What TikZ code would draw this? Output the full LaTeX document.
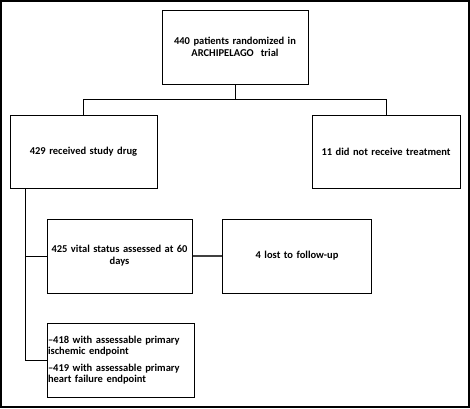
\documentclass[tikz,border=0pt]{standalone}
\usepackage{fontspec}
\setmainfont{Carlito}
\begin{document}
\begin{tikzpicture}[x=1pt,y=-1pt,
  fbox/.style={draw=black,line width=1pt,inner sep=2pt,font=\bfseries\fontsize{10.5}{12}\selectfont,align=center},
  link/.style={draw=black,line width=1pt}]
\useasboundingbox (0,0) rectangle (470,408);
\draw[line width=1.6pt] (1,1) rectangle (469,407);
\node[fbox,minimum width=146pt,minimum height=74pt,text width=140pt] (top) at (235,47) {440 patients randomized in\\ARCHIPELAGO\ \ trial};
\node[fbox,minimum width=147pt,minimum height=73pt,text width=140pt] (recv) at (83.5,151.5) {429 received study drug};
\node[fbox,minimum width=148pt,minimum height=73pt,text width=140pt] (norecv) at (386,151.5) {11 did not receive treatment};
\node[fbox,minimum width=145pt,minimum height=74pt,text width=140pt] (vital) at (119.5,256) {425 vital status assessed at 60\\days};
\node[fbox,minimum width=147pt,minimum height=74pt,text width=145pt] (lost) at (297,256) {4 lost to follow-up};
\node[fbox,minimum width=147pt,minimum height=74pt,text width=145pt,inner sep=1pt,align=left,font=\bfseries\fontsize{10.5}{11.5}\selectfont] (assess) at (120.5,360) {--418 with assessable primary\\ischemic endpoint\\[5pt]--419 with assessable primary\\heart failure endpoint};
\coordinate (split) at (235,99);
\coordinate (trunk) at (25,188);
\draw[link] (top.south) -- (split);
\draw[link] (split) -| (recv.north);
\draw[link] (split) -| (norecv.north);
\draw[link] (trunk) |- (assess.west);
\draw[link] (trunk |- vital.west) -- (vital.west);
\draw[line width=1.8pt,draw=black!75] (vital.east) -- (lost.west);
\end{tikzpicture}
\end{document}
